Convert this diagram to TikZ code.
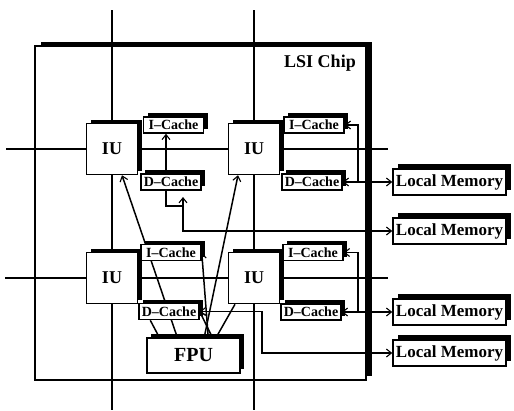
\documentclass[tikz,border=0pt]{standalone}
\usepackage{fontspec}
\setmainfont{Liberation Serif}
\usetikzlibrary{shadows,arrows.meta,calc}
\pgfdeclarelayer{chiplayer}
\pgfdeclarelayer{wirelayer}
\pgfsetlayers{chiplayer,wirelayer,main}
\begin{document}
\begin{tikzpicture}[x=1pt,y=-1pt,
  >={Straight Barb[length=5pt,width=8pt,line width=1.1pt]},
  wire/.style={line width=1.5pt},
  shad/.style={drop shadow={shadow xshift=#1,shadow yshift=#1,opacity=1,fill=black}},
  basebox/.style={draw,fill=white,line width=1.5pt,inner sep=0pt},
  iubox/.style={basebox,shad=4pt,minimum width=51pt,minimum height=51pt,font=\fontsize{18}{18}\selectfont\bfseries},
  cachebox/.style={basebox,shad=4pt,minimum width=60pt,minimum height=16pt,font=\fontsize{14}{14}\selectfont\bfseries},
  lmbox/.style={basebox,shad=5pt,minimum width=113pt,minimum height=26pt,font=\fontsize{17}{17}\selectfont\bfseries},
  fpubox/.style={basebox,shad=4pt,minimum width=93pt,minimum height=35pt,font=\fontsize{20}{20}\selectfont\bfseries},
  chipbox/.style={basebox,drop shadow={shadow xshift=6pt,shadow yshift=4pt,opacity=1,fill=black}}
]
\useasboundingbox (0,0) rectangle (514,410);

\begin{pgfonlayer}{chiplayer}
\node[chipbox,minimum width=331pt,minimum height=334pt] (chip) at (200.5,213) {};
\end{pgfonlayer}
\node[font=\fontsize{18}{18}\selectfont\bfseries] (chiplabel) at (320,63) {LSI Chip};

% integer units
\node[iubox] (IU1) at (112,149) {IU};
\node[iubox] (IU2) at (254,149) {IU};
\node[iubox] (IU3) at (112,278) {IU};
\node[iubox] (IU4) at (254,278) {IU};

% caches
\node[cachebox] (TLI) at (173.5,125) {I--Cache};
\node[cachebox] (TLD) at (171,182) {D--Cache};
\node[cachebox] (TRI) at (314,125) {I--Cache};
\node[cachebox] (TRD) at (312,182) {D--Cache};
\node[cachebox] (BLI) at (171,252.5) {I--Cache};
\node[cachebox] (BLD) at (169,311.5) {D--Cache};
\node[cachebox] (BRI) at (313,252.5) {I--Cache};
\node[cachebox] (BRD) at (311,312) {D--Cache};

% FPU
\node[fpubox] (FPU) at (193.5,355.5) {FPU};

% local memories
\node[lmbox] (LM1) at (449.5,182) {Local Memory};
\node[lmbox] (LM2) at (449.5,231) {Local Memory};
\node[lmbox] (LM3) at (449.5,312) {Local Memory};
\node[lmbox] (LM4) at (449.5,353) {Local Memory};

% free ends
\coordinate (v1t) at (112,10);
\coordinate (v1b) at (112,410);
\coordinate (v2t) at (254,10);
\coordinate (v2b) at (254,410);
\coordinate (h1l) at (6,149);
\coordinate (h1r) at (388,149);
\coordinate (h2l) at (5,278);
\coordinate (h2r) at (388,278);
\coordinate (xa) at (166,0);
\coordinate (xr) at (358,0);
\coordinate (xb) at (262,0);
\coordinate (b1) at (183,206);
\coordinate (b2) at (183,197);

\begin{pgfonlayer}{wirelayer}
% interconnection network
\draw[wire] (v1t) -- (IU1.north);
\draw[wire] (IU1.south) -- (IU3.north);
\draw[wire] (IU3.south) -- (v1b);
\draw[wire] (v2t) -- (IU2.north);
\draw[wire] (IU2.south) -- (IU4.north);
\draw[wire] (IU4.south) -- (v2b);
\draw[wire] (h1l) -- (IU1.west);
\draw[wire] (IU1.east) -- (IU2.west);
\draw[wire] (IU2.east) -- (h1r);
\draw[wire] (h2l) -- (IU3.west);
\draw[wire] (IU3.east) -- (IU4.west);
\draw[wire] (IU4.east) -- (h2r);

% top-left caches
\draw[wire,->] (TLD.north -| xa) -- (TLI.south -| xa);
\draw[wire] (TLD.south -| xa) |- (b1);
\draw[wire,<->] (b2) |- (LM2.west);

% top-right caches
\draw[wire,<-] (TRI.east) -- (TRI.east -| xr) -- (TRD.east -| xr);
\draw[wire,<->] (TRD.east) -- (LM1.west);

% bottom-right caches
\draw[wire,<-] (BRI.east) -- (BRI.east -| xr) -- (BRD.east -| xr);
\draw[wire,<->] (BRD.east) -- (LM3.west);

% bottom-left D-cache to memory
\draw[wire,<->] (BLD.east) -- (BLD.east -| xb) |- (LM4.west);

% FPU connections
\draw[wire] ([xshift=12pt]BLD.south west) -- ([xshift=13pt]FPU.north west);
\draw[wire,<-] ([xshift=10pt]IU1.south) -- ([xshift=31pt]FPU.north west);
\draw[wire,->] ([xshift=58pt]FPU.north west) -- ([xshift=-16pt]IU2.south);
\draw[wire,->] ([xshift=62pt]FPU.north west) -- (BLI.east);
\draw[wire,->] ([xshift=66pt]FPU.north west) -- (BLD.east);
\draw[wire] ([xshift=-19pt]IU4.south) -- ([xshift=70pt]FPU.north west);
\end{pgfonlayer}
\end{tikzpicture}
\end{document}
